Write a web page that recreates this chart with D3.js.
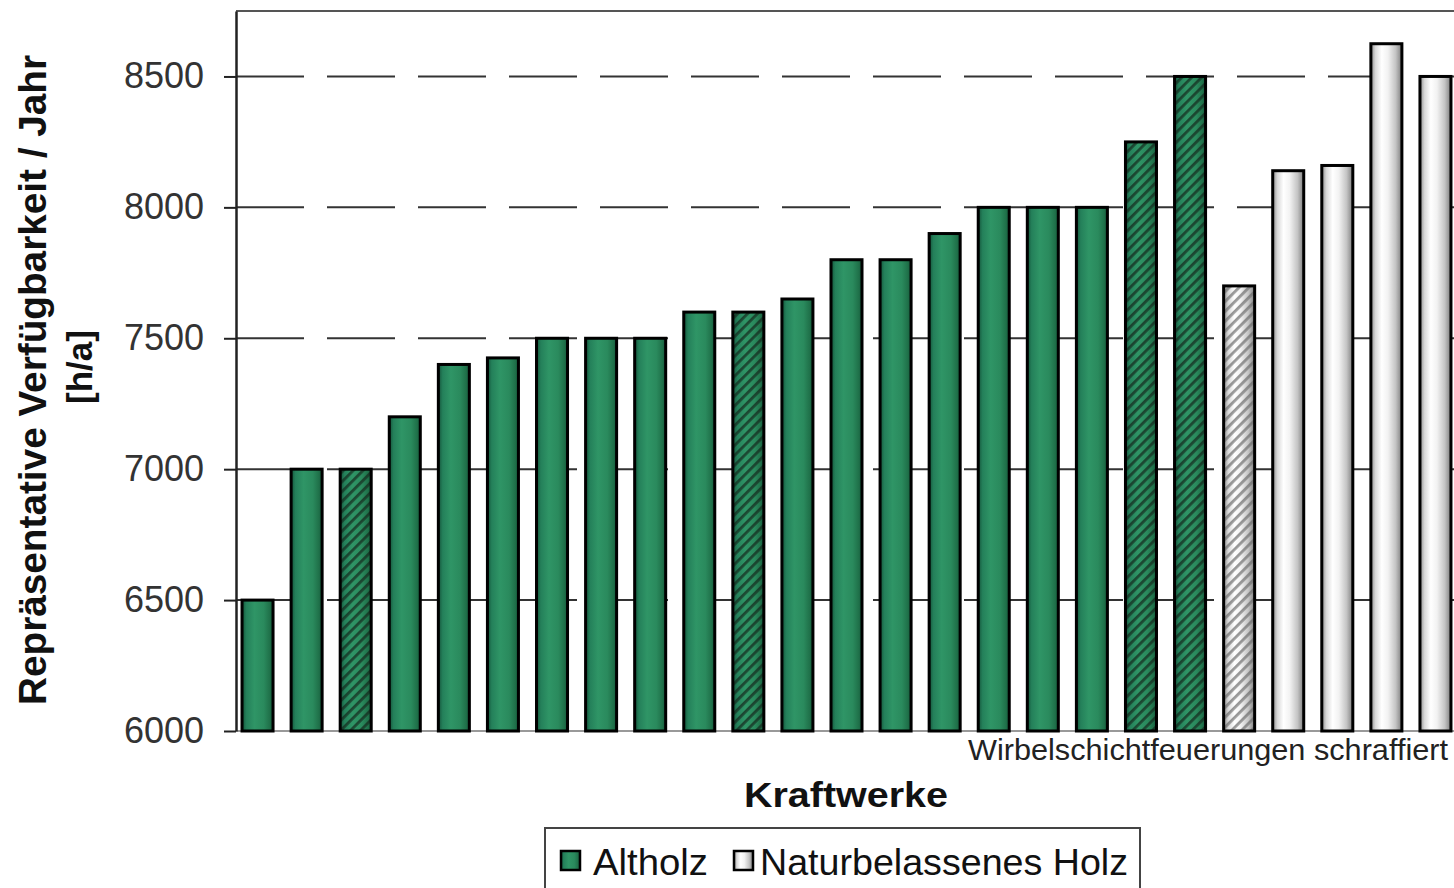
<!DOCTYPE html>
<html>
<head>
<meta charset="utf-8">
<script src="https://cdn.jsdelivr.net/npm/d3@7"></script>
<style>
  html, body { margin: 0; padding: 0; background: #fff; overflow: hidden; }
  svg { display: block; font-family: "Liberation Sans", Arial, sans-serif; }
</style>
</head>
<body>
<svg id="chart" width="1454" height="888"></svg>
<script>
// ---- data ----
const plants = d3.range(1, 26).map(i => "K" + i);
const values = [6500, 7000, 7000, 7200, 7400, 7425, 7500, 7500, 7500, 7600,
                7600, 7650, 7800, 7800, 7900, 8000, 8000, 8000, 8250, 8500,
                7700, 8140, 8160, 8625, 8500];
const fuel = ["Altholz","Altholz","Altholz","Altholz","Altholz","Altholz","Altholz","Altholz","Altholz","Altholz",
              "Altholz","Altholz","Altholz","Altholz","Altholz","Altholz","Altholz","Altholz","Altholz","Altholz",
              "Naturbelassenes Holz","Naturbelassenes Holz","Naturbelassenes Holz","Naturbelassenes Holz","Naturbelassenes Holz"];
const hatched = [false,false,true,false,false,false,false,false,false,false,
                 true,false,false,false,false,false,false,false,true,true,
                 true,false,false,false,false];
const yTicks = [6000, 6500, 7000, 7500, 8000, 8500];
const seriesNames = ["Altholz", "Naturbelassenes Holz"];
const yTitle = ["Repräsentative Verfügbarkeit / Jahr", "[h/a]"];
const xTitle = "Kraftwerke";
const note = "Wirbelschichtfeuerungen schraffiert";

// ---- layout ----
const svg = d3.select("#chart");
const plotL = 236, plotT = 11, plotB = 731, plotR = 1460;

const y = d3.scaleLinear().domain([6000, 8750]).range([plotB, plotT]);
const x = d3.scaleBand().domain(plants).range([233, 1460]).paddingInner(0.368).paddingOuter(0.184);

const defs = svg.append("defs");
const gGreen = defs.append("linearGradient").attr("id", "gGreen").attr("x1", "0").attr("x2", "1").attr("y1", "0").attr("y2", "0");
[[0, "#14543a"], [0.14, "#24805a"], [0.4, "#2f9566"], [0.7, "#2a8a5d"], [0.9, "#1f7049"], [1, "#14543a"]]
  .forEach(([o, c]) => gGreen.append("stop").attr("offset", o).attr("stop-color", c));
const gWhite = defs.append("linearGradient").attr("id", "gWhite").attr("x1", "0").attr("x2", "1").attr("y1", "0").attr("y2", "0");
[[0, "#8c8c8c"], [0.15, "#d8d8d8"], [0.35, "#ffffff"], [0.55, "#f2f2f2"], [0.8, "#c4c4c4"], [1, "#7e7e7e"]]
  .forEach(([o, c]) => gWhite.append("stop").attr("offset", o).attr("stop-color", c));

function hatch(id, color) {
  const p = defs.append("pattern").attr("id", id).attr("patternUnits", "userSpaceOnUse")
    .attr("width", 7).attr("height", 7).attr("patternTransform", "rotate(45)");
  p.append("rect").attr("x", 0).attr("y", 0).attr("width", 2.8).attr("height", 7).attr("fill", color);
}
hatch("hGreen", "rgba(20,40,28,0.7)");
hatch("hWhite", "rgba(110,110,110,0.7)");

// gridlines (dashed)
svg.append("g").selectAll("line").data(yTicks.filter(t => t > 6000)).join("line")
  .attr("x1", plotL).attr("x2", plotR)
  .attr("y1", d => y(d)).attr("y2", d => y(d))
  .attr("stroke", "#333").attr("stroke-width", 2).attr("stroke-dasharray", "68,23");

// top frame
svg.append("line").attr("x1", plotL).attr("x2", plotR).attr("y1", plotT).attr("y2", plotT)
  .attr("stroke", "#555").attr("stroke-width", 2);

// bottom axis line
svg.append("line").attr("x1", plotL).attr("x2", plotR).attr("y1", plotB).attr("y2", plotB)
  .attr("stroke", "#999").attr("stroke-width", 2);

// bars
const data = plants.map((p, i) => ({ p, v: values[i], f: fuel[i], h: hatched[i] }));
const gb = svg.append("g");
gb.selectAll("rect.bar").data(data).join("rect").attr("class", "bar")
  .attr("x", d => x(d.p)).attr("width", x.bandwidth())
  .attr("y", d => y(d.v)).attr("height", d => y(6000) - y(d.v))
  .attr("fill", d => d.f === "Altholz" ? "url(#gGreen)" : "url(#gWhite)");
gb.selectAll("rect.hatch").data(data.filter(d => d.h)).join("rect").attr("class", "hatch")
  .attr("x", d => x(d.p)).attr("width", x.bandwidth())
  .attr("y", d => y(d.v)).attr("height", d => y(6000) - y(d.v))
  .attr("fill", d => d.f === "Altholz" ? "url(#hGreen)" : "url(#hWhite)");
gb.selectAll("rect.outline").data(data).join("rect").attr("class", "outline")
  .attr("x", d => x(d.p)).attr("width", x.bandwidth())
  .attr("y", d => y(d.v)).attr("height", d => y(6000) - y(d.v))
  .attr("fill", "none").attr("stroke", "#000").attr("stroke-width", 3);

// y axis
const yAxis = d3.axisLeft(y).tickValues(yTicks).tickFormat(d3.format("d"))
  .tickSize(12).tickSizeOuter(0).tickPadding(20);
const ya = svg.append("g").attr("transform", `translate(${plotL},0)`).call(yAxis);
ya.select(".domain").attr("stroke", "#222").attr("stroke-width", 2.5);
ya.selectAll(".tick line").attr("stroke", "#222").attr("stroke-width", 2);
ya.selectAll(".tick text").attr("font-size", 36).attr("fill", "#333")
  .attr("font-family", '"Liberation Sans", Arial, sans-serif');

// y title
svg.append("text").attr("transform", "translate(46,380) rotate(-90)")
  .attr("text-anchor", "middle").attr("font-size", 38).attr("font-weight", "bold").attr("fill", "#111")
  .attr("textLength", 650).attr("lengthAdjust", "spacingAndGlyphs").text(yTitle[0]);
svg.append("text").attr("transform", "translate(92,367) rotate(-90)")
  .attr("text-anchor", "middle").attr("font-size", 35).attr("font-weight", "bold").attr("fill", "#111")
  .text(yTitle[1]);

// note
svg.append("text").attr("x", 968).attr("y", 760).attr("font-size", 29).attr("fill", "#222")
  .attr("textLength", 480).attr("lengthAdjust", "spacingAndGlyphs").text(note);

// x title
svg.append("text").attr("x", 846).attr("y", 807).attr("text-anchor", "middle")
  .attr("font-size", 35).attr("font-weight", "bold").attr("fill", "#111")
  .attr("textLength", 204).attr("lengthAdjust", "spacingAndGlyphs").text(xTitle);

// legend
const lg = svg.append("g");
lg.append("rect").attr("x", 545).attr("y", 828).attr("width", 595).attr("height", 80)
  .attr("fill", "#fff").attr("stroke", "#444").attr("stroke-width", 2);
const lgItems = [
  { name: seriesNames[0], fill: "url(#gGreen)", sx: 561, tx: 593, tl: 115 },
  { name: seriesNames[1], fill: "url(#gWhite)", sx: 734, tx: 760, tl: 368 }
];
lgItems.forEach(it => {
  lg.append("rect").attr("x", it.sx).attr("y", 851).attr("width", 19).attr("height", 19)
    .attr("fill", it.fill).attr("stroke", "#000").attr("stroke-width", 2.5);
  lg.append("text").attr("x", it.tx).attr("y", 875).attr("font-size", 36).attr("fill", "#111")
    .attr("textLength", it.tl).attr("lengthAdjust", "spacingAndGlyphs").text(it.name);
});
</script>
</body>
</html>
